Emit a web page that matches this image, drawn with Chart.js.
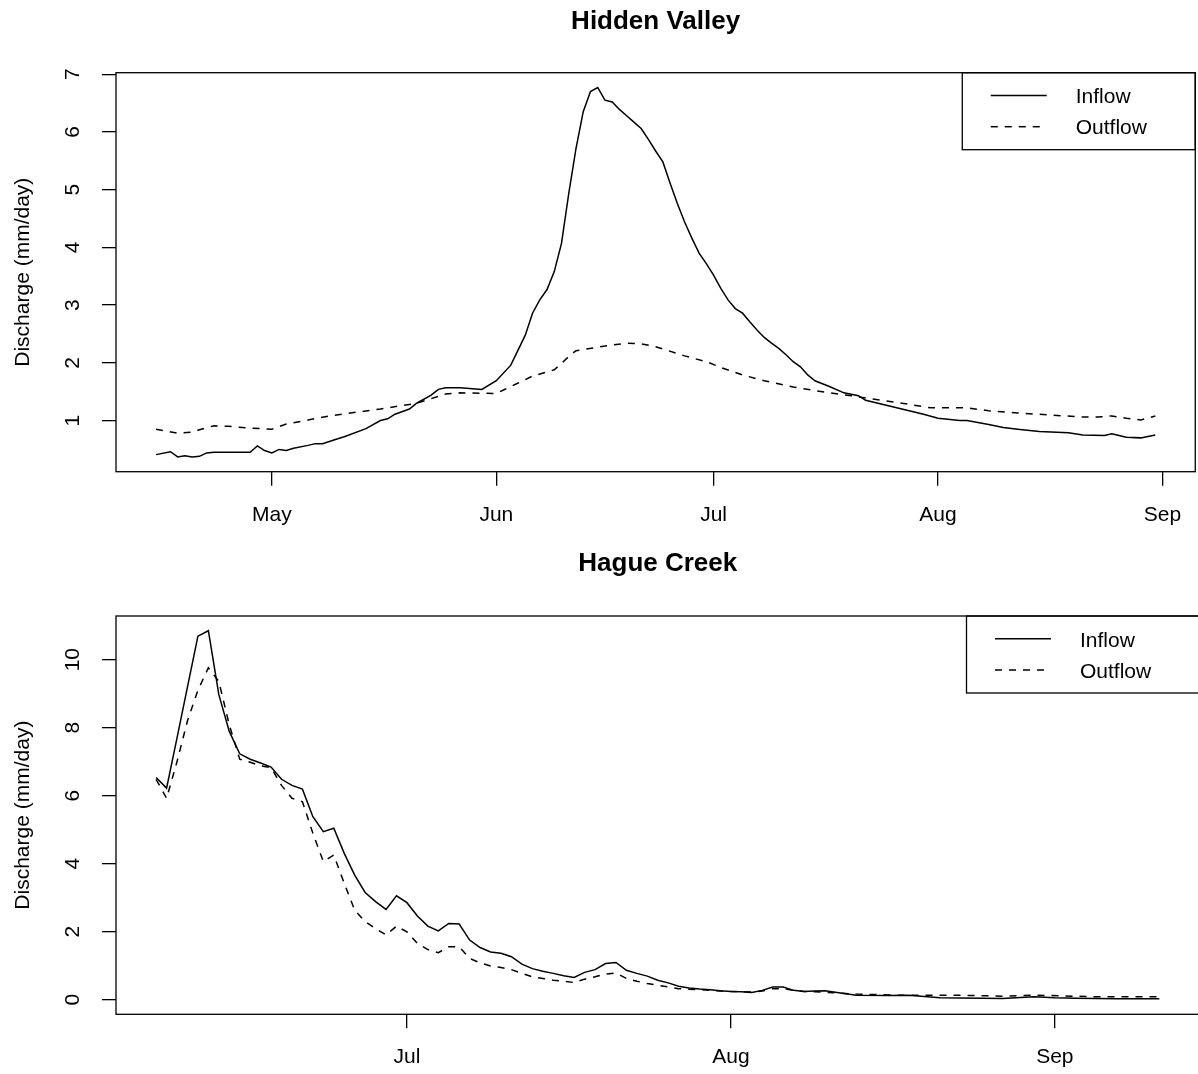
<!DOCTYPE html>
<html>
<head>
<meta charset="utf-8">
<title>Inflow and outflow</title>
<script src="https://cdn.jsdelivr.net/npm/chart.js"></script>
<style>
  html, body { margin: 0; padding: 0; background: #fff; overflow: hidden; }
  #wrap { position: relative; width: 1198px; height: 1074px; overflow: hidden; }
  canvas { position: absolute; left: 0; }
  #hv { top: 0; }
  #hc { top: 537px; }
</style>
</head>
<body>
<div id="wrap">
  <canvas id="hv" width="1198" height="537"></canvas>
  <canvas id="hc" width="1202" height="537"></canvas>
</div>
<script>
// x values are day of year
const monthDays = [121, 152, 182, 213, 244];
const monthLabels = ["May", "Jun", "Jul", "Aug", "Sep"];

// Hidden Valley
const hvInflowDays = [105, 107, 108, 109, 110, 111, 112, 113, 118, 119, 120, 121, 122, 123, 124,
  126, 127, 128, 130, 131, 134, 136, 137, 138, 140, 141, 143, 144, 145, 147, 150, 152, 154,
  156, 157, 158, 159, 160, 161, 162, 163, 164, 165, 166, 167, 168, 169, 170, 171, 172, 173, 174, 175,
  176, 177, 178, 179, 180, 181, 182, 183, 184, 185, 186, 187, 188, 189, 190, 191, 192, 193, 194, 195, 196,
  198, 200, 202, 203, 206, 209, 211, 213, 216, 217, 220, 222, 224, 227, 231, 233, 236, 237, 239, 241, 243];
const hvInflow = [0.41, 0.46, 0.37, 0.39, 0.37, 0.38, 0.44, 0.45, 0.45, 0.56, 0.48, 0.44, 0.50, 0.48, 0.52,
  0.57, 0.60, 0.60, 0.68, 0.72, 0.86, 1.00, 1.03, 1.11, 1.20, 1.30, 1.44, 1.54, 1.57, 1.57, 1.54, 1.69, 1.96,
  2.48, 2.86, 3.09, 3.27, 3.58, 4.07, 4.93, 5.71, 6.35, 6.70, 6.77, 6.55, 6.52, 6.39, 6.28, 6.17, 6.06, 5.87, 5.67, 5.48,
  5.11, 4.76, 4.44, 4.16, 3.90, 3.72, 3.52, 3.29, 3.09, 2.94, 2.86, 2.71, 2.57, 2.44, 2.34, 2.25, 2.14, 2.02, 1.93, 1.79, 1.69,
  1.59, 1.48, 1.43, 1.35, 1.26, 1.17, 1.11, 1.04, 1.00, 1.00, 0.93, 0.88, 0.85, 0.81, 0.79, 0.75, 0.74, 0.77, 0.71, 0.70, 0.75];
const hvOutflowDays = [105, 108, 110, 111, 113, 115, 118, 121, 123, 126, 129, 133, 136, 139, 141,
  145, 147, 152, 153, 155, 157, 160, 161, 162, 163, 166, 168, 170, 172, 174, 175, 178, 181, 183, 186,
  189, 193, 196, 198, 201, 203, 208, 212, 217, 220, 224, 228, 233, 235, 237, 239, 241, 243];
const hvOutflow = [0.85, 0.78, 0.80, 0.84, 0.91, 0.90, 0.87, 0.85, 0.94, 1.01, 1.08, 1.15, 1.20, 1.26, 1.30,
  1.46, 1.48, 1.47, 1.53, 1.65, 1.77, 1.88, 1.99, 2.11, 2.21, 2.27, 2.31, 2.34, 2.33, 2.28, 2.24, 2.12, 2.02, 1.92, 1.79,
  1.69, 1.58, 1.52, 1.48, 1.43, 1.39, 1.30, 1.22, 1.22, 1.17, 1.13, 1.10, 1.06, 1.06, 1.08, 1.04, 1.01, 1.08];
const hvYTicks = [1, 2, 3, 4, 5, 6, 7];

// Hague Creek
const hcInflowDays = [158, 159, 160, 161, 162, 163, 164, 165, 166, 167, 168, 169, 170, 171, 172, 173,
  174, 175, 176, 177, 178, 179, 180, 181, 182, 183, 184, 185, 186, 187, 188, 189, 190, 191, 192, 193,
  194, 195, 196, 197, 198, 199, 200, 201, 202, 203, 204, 205, 206, 207, 208, 209, 210, 211, 212, 213,
  214, 215, 216, 217, 218, 219, 220, 221, 222, 225, 228, 230, 233, 239, 242, 244, 246, 250, 254];
const hcInflow = [6.53, 6.22, 7.70, 9.20, 10.69, 10.85, 8.97, 7.89, 7.23, 7.07,
  6.96, 6.84, 6.48, 6.30, 6.19, 5.38, 4.94, 5.04, 4.30, 3.66,
  3.15, 2.88, 2.65, 3.05, 2.85, 2.46, 2.16, 2.02, 2.24, 2.22,
  1.75, 1.53, 1.40, 1.36, 1.26, 1.04, 0.91, 0.83, 0.77, 0.70,
  0.65, 0.80, 0.88, 1.06, 1.09, 0.86, 0.77, 0.69, 0.57, 0.49,
  0.39, 0.34, 0.31, 0.29, 0.26, 0.24, 0.23, 0.21, 0.27, 0.37,
  0.37, 0.27, 0.24, 0.25, 0.26, 0.13, 0.12, 0.13, 0.05, 0.03, 0.08, 0.05, 0.04, 0.02, 0.02];
const hcOutflowDays = [158, 159, 160, 161, 162, 163, 164, 165, 166, 167, 168, 169, 170, 171, 172, 173,
  174, 175, 176, 177, 178, 179, 180, 181, 182, 183, 184, 185, 186, 187, 188, 189, 190, 191, 192, 193,
  194, 195, 196, 197, 198, 199, 200, 201, 202, 203, 204, 205, 206, 207, 208, 209, 210, 211, 212, 213,
  214, 215, 216, 217, 218, 219, 220, 221, 225, 229, 234, 239, 242, 248, 254];
const hcOutflow = [6.48, 5.92, 7.00, 8.20, 9.10, 9.76, 9.36, 8.08, 7.07, 6.98,
  6.88, 6.82, 6.30, 5.92, 5.82, 4.89, 4.06, 4.25, 3.42, 2.63,
  2.29, 2.09, 1.90, 2.16, 1.99, 1.65, 1.47, 1.38, 1.55, 1.55,
  1.21, 1.08, 0.99, 0.94, 0.88, 0.77, 0.67, 0.62, 0.57, 0.54,
  0.50, 0.60, 0.67, 0.75, 0.78, 0.62, 0.54, 0.47, 0.42, 0.37,
  0.32, 0.30, 0.29, 0.27, 0.25, 0.24, 0.23, 0.22, 0.25, 0.32,
  0.32, 0.27, 0.24, 0.23, 0.16, 0.13, 0.13, 0.10, 0.13, 0.08, 0.08];
const hcYTicks = [0, 2, 4, 6, 8, 10];

const FONT = "'Liberation Sans', Arial, Helvetica, sans-serif";

function toPoints(xs, ys) {
    return xs.map((x, i) => ({ x: x, y: ys[i] }));
}

// plot box and boxed legend in the top right corner, base R style
const rBox = {
    id: "rBox",
    afterDatasetsDraw(chart) {
        const a = chart.chartArea;
        const ctx = chart.ctx;
        const w = 233, h = 77;
        const x0 = a.right - w, y0 = a.top;
        ctx.save();
        ctx.fillStyle = "#fff";
        ctx.fillRect(x0, y0, w, h);
        ctx.strokeStyle = "#000";
        ctx.lineWidth = 1.3;
        ctx.strokeRect(x0, y0, w, h);
        ctx.font = "21px " + FONT;
        ctx.textBaseline = "middle";
        ctx.textAlign = "left";
        chart.data.datasets.forEach((ds, i) => {
            const y = y0 + 22.8 + i * 31.2;
            ctx.beginPath();
            ctx.setLineDash(ds.borderDash || []);
            ctx.lineWidth = ds.borderWidth;
            ctx.strokeStyle = ds.borderColor;
            ctx.moveTo(x0 + 28.5, y);
            ctx.lineTo(x0 + 84.5, y);
            ctx.stroke();
            ctx.setLineDash([]);
            ctx.fillStyle = "#000";
            ctx.fillText(ds.label, x0 + 113.5, y + 2);
        });
        ctx.lineWidth = 1.3;
        ctx.strokeStyle = "#000";
        ctx.strokeRect(a.left, a.top, a.right - a.left, a.bottom - a.top);
        ctx.restore();
    }
};

function drawPanel(id, title, inflow, outflow, opt) {
    const xTicks = monthDays.filter(d => d >= opt.xMin && d <= opt.xMax);
    return new Chart(document.getElementById(id), {
        type: "line",
        data: {
            datasets: [
                { label: "Inflow", data: inflow, borderColor: "#000", borderWidth: 1.5, pointRadius: 0, fill: false },
                { label: "Outflow", data: outflow, borderColor: "#000", borderWidth: 1.5, borderDash: [7, 7], pointRadius: 0, fill: false }
            ]
        },
        options: {
            responsive: false,
            animation: false,
            events: [],
            layout: { autoPadding: false, padding: { left: 0, top: 0, right: opt.padRight, bottom: 0 } },
            plugins: {
                legend: { display: false },
                tooltip: { enabled: false },
                title: {
                    display: true, text: title, fullSize: false, color: "#000",
                    font: { family: FONT, size: 26, weight: "bold", lineHeight: 1.2 },
                    padding: { top: opt.titleTop, bottom: opt.titleBottom }
                }
            },
            scales: {
                x: {
                    type: "linear", position: "bottom", bounds: "data",
                    min: opt.xMin, max: opt.xMax,
                    border: { display: false },
                    grid: { drawOnChartArea: false, drawTicks: true, tickLength: 14, color: "#000", lineWidth: 1.3 },
                    ticks: {
                        autoSkip: false, maxRotation: 0, padding: 16.7, color: "#000",
                        font: { family: FONT, size: 21, lineHeight: 1.2 },
                        callback: function(v) {
                            const i = monthDays.indexOf(v);
                            return i >= 0 ? monthLabels[i] : "";
                        }
                    },
                    afterBuildTicks: s => { s.ticks = xTicks.map(v => ({ value: v })); },
                    afterFit: s => { s.height = opt.xAxisH; }
                },
                y: {
                    type: "linear", position: "left", bounds: "data",
                    min: opt.yMin, max: opt.yMax,
                    border: { display: false },
                    grid: { drawOnChartArea: false, drawTicks: true, tickLength: 14, color: "#000", lineWidth: 1.3 },
                    ticks: {
                        minRotation: 90, maxRotation: 90, crossAlign: "center", padding: opt.yPad,
                        color: "#000", font: { family: FONT, size: 21, lineHeight: 1.2 },
                        callback: v => String(v)
                    },
                    afterBuildTicks: s => { s.ticks = opt.yTicks.map(v => ({ value: v })); },
                    title: {
                        display: true, text: "Discharge (mm/day)", color: "#000",
                        font: { family: FONT, size: 21, lineHeight: 1.2 },
                        padding: { top: 11, bottom: 0 }
                    },
                    afterFit: s => { s.width = 116; }
                }
            }
        },
        plugins: [rBox]
    });
}

drawPanel("hv", "Hidden Valley", toPoints(hvInflowDays, hvInflow), toPoints(hvOutflowDays, hvOutflow), {
    xMin: 99.48, xMax: 248.52, yMin: 0.114, yMax: 7.026, yTicks: hvYTicks, yPad: 23,
    xAxisH: 65.3, titleTop: 6.4, titleBottom: 35.1, padRight: 1.3
});

drawPanel("hc", "Hague Creek", toPoints(hcInflowDays, hcInflow), toPoints(hcOutflowDays, hcOutflow), {
    xMin: 154.16, xMax: 257.84, yMin: -0.434, yMax: 11.284, yTicks: hcYTicks, yPad: 17.1,
    xAxisH: 59.7, titleTop: 11.4, titleBottom: 36.4, padRight: 2.5
});
</script>
</body>
</html>
